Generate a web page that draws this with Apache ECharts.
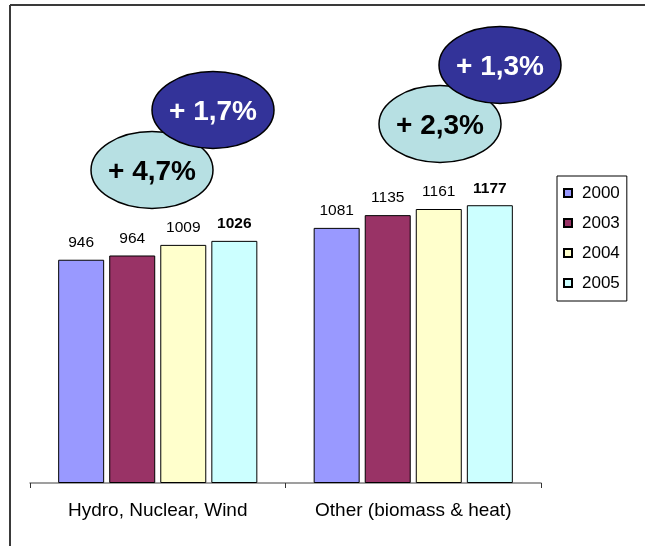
<!DOCTYPE html>
<html>
<head>
<meta charset="utf-8">
<script src="https://cdn.jsdelivr.net/npm/echarts@6/dist/echarts.min.js"></script>
<style>html,body{margin:0;padding:0;background:#fff;}#c{width:645px;height:546px;}</style>
</head>
<body>
<div id="c"></div>
<script>
const categories = ['Hydro, Nuclear, Wind', 'Other (biomass & heat)'];
const years = ['2000', '2003', '2004', '2005'];
const v2000 = [946, 1081];
const v2003 = [964, 1135];
const v2004 = [1009, 1161];
const v2005 = [1026, 1177];
const growth2000to2005 = ['+ 4,7%', '+ 2,3%'];
const growth2004to2005 = ['+ 1,7%', '+ 1,3%'];

const seriesValues = [v2000, v2003, v2004, v2005];
const colors = ['#9999FF', '#993366', '#FFFFCC', '#CCFFFF'];
const FONT = 'Liberation Sans, Arial, sans-serif';

const chart = echarts.init(document.getElementById('c'));

const series = years.map((y, i) => ({
  name: y,
  type: 'bar',
  data: seriesValues[i],
  barWidth: 46,
  barGap: '11%',
  itemStyle: { color: colors[i], borderColor: '#000', borderWidth: 1 },
  label: {
    show: true,
    position: 'top',
    distance: 9,
    color: '#000',
    fontFamily: FONT,
    fontSize: 15.5,
    fontWeight: i === 3 ? 'bold' : 'normal'
  },
  emphasis: { disabled: true }
}));

const ellipses = [
  { cx: 152, cy: 170, fill: '#B7E0E3', text: growth2000to2005[0], color: '#000' },
  { cx: 213, cy: 110, fill: '#333399', text: growth2004to2005[0], color: '#fff' },
  { cx: 440, cy: 124, fill: '#B7E0E3', text: growth2000to2005[1], color: '#000' },
  { cx: 500, cy: 65, fill: '#333399', text: growth2004to2005[1], color: '#fff' }
];

const graphic = [
  { type: 'line', shape: { x1: 10, y1: 5, x2: 645, y2: 5 }, style: { stroke: '#3a3a3a', lineWidth: 2 } },
  { type: 'line', shape: { x1: 10, y1: 5, x2: 10, y2: 546 }, style: { stroke: '#3a3a3a', lineWidth: 2 } }
];
ellipses.forEach((e, i) => {
  graphic.push({
    type: 'ellipse', z: 10 + i * 2,
    shape: { cx: e.cx, cy: e.cy, rx: 61, ry: 38.5 },
    style: { fill: e.fill, stroke: '#000', lineWidth: 1.5 }
  });
  graphic.push({
    type: 'text', z: 11 + i * 2,
    x: e.cx, y: e.cy + 2,
    style: {
      text: e.text, fill: e.color,
      font: 'bold 28px ' + FONT,
      align: 'center', verticalAlign: 'middle'
    }
  });
});

chart.setOption({
  animation: false,
  backgroundColor: '#fff',
  grid: { left: 30, right: 104, top: 11, bottom: 63, containLabel: false },
  legend: {
    orient: 'vertical',
    left: 557, top: 176,
    data: years,
    itemWidth: 8, itemHeight: 8,
    itemGap: 10,
    padding: [7, 7, 8, 6],
    borderColor: '#000', borderWidth: 1,
    icon: 'rect',
    textStyle: { fontFamily: FONT, fontSize: 17, color: '#000', lineHeight: 20, padding: [0, 0, 0, 5] },
    selectedMode: false
  },
  xAxis: {
    type: 'category',
    data: categories,
    axisLine: { lineStyle: { color: '#808080', width: 1.5 } },
    axisTick: { show: true, length: 5, lineStyle: { color: '#333', width: 1 } },
    axisLabel: { fontFamily: FONT, fontSize: 19, color: '#000', margin: 18 }
  },
  yAxis: {
    type: 'value', min: 0, max: 2000,
    show: false,
    splitLine: { show: false }
  },
  series: series,
  graphic: graphic
});
</script>
</body>
</html>
